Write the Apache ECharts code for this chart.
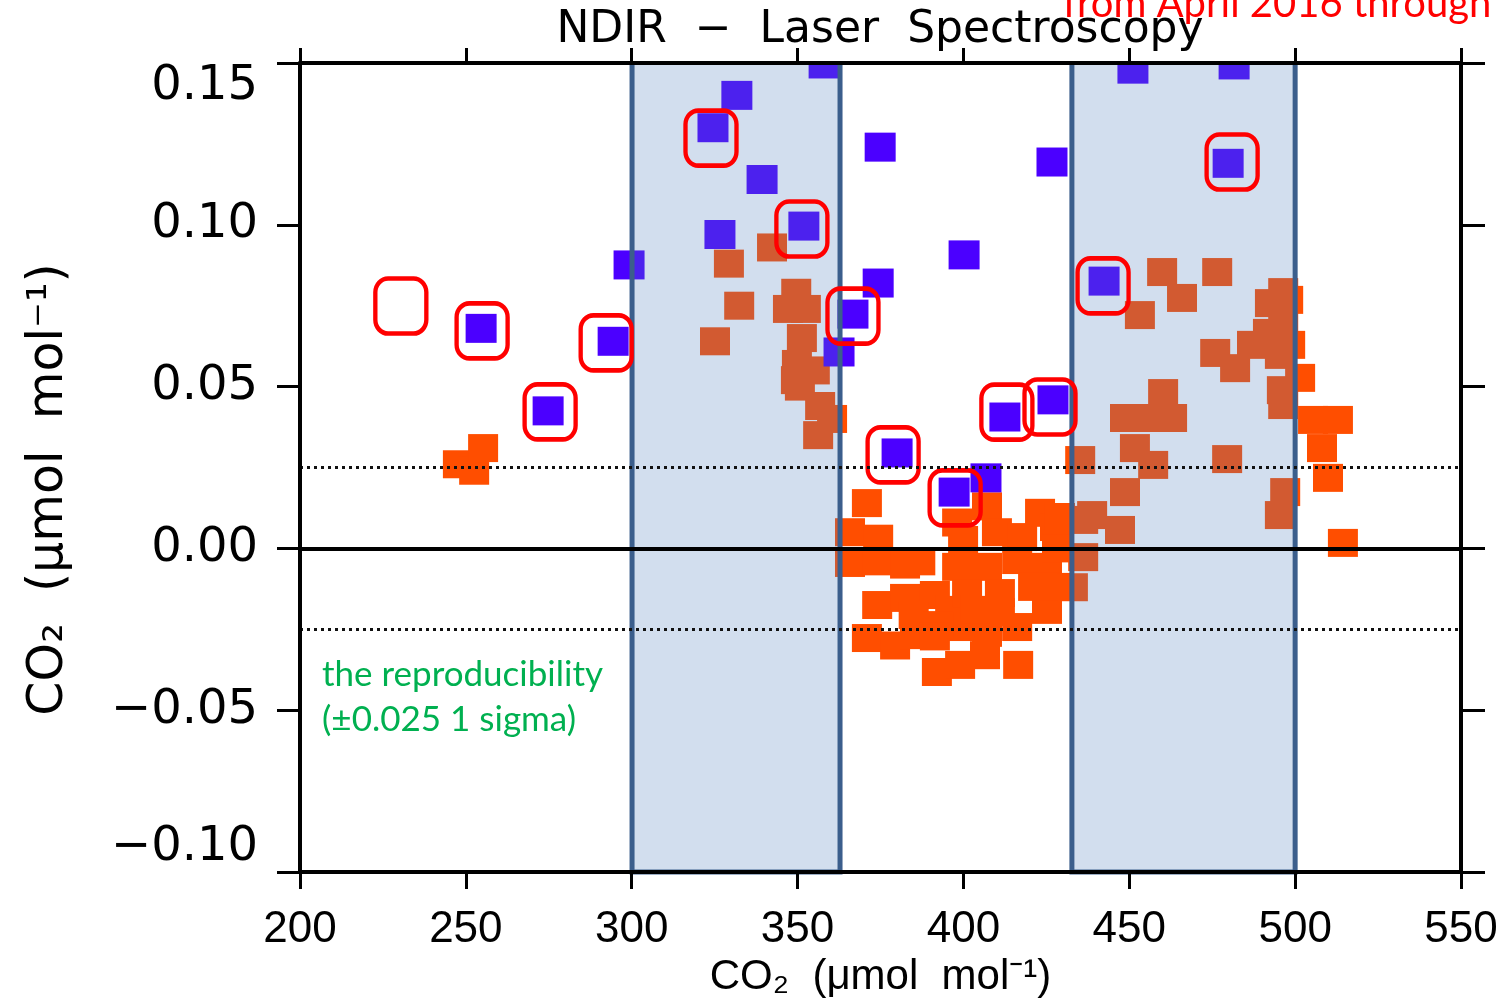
<!DOCTYPE html>
<html>
<head>
<meta charset="utf-8">
<script src="https://cdn.jsdelivr.net/npm/echarts@6/dist/echarts.min.js"></script>
<style>
  html, body { margin: 0; padding: 0; background: #fff; }
  #chart { width: 1504px; height: 1000px; }
</style>
</head>
<body>
<div id="chart"></div>
<script>
// 数据
var xTicks = [200, 550, 50];
var yTicks = [-0.10, 0.15, 0.05];
var reproducibility = 0.025;
var shadedRanges = [[300.1, 362.8], [432.7, 500.0]];

var orangePoints = [
  [247.6, 0.026], [252.5, 0.024], [255.2, 0.031],
  [329.3, 0.088], [342.3, 0.093], [332.4, 0.075], [325.1, 0.064],
  [349.6, 0.079], [347.1, 0.074], [352.5, 0.074], [351.3, 0.065], [349.8, 0.057],
  [355.2, 0.055], [349.5, 0.052], [350.7, 0.050], [356.8, 0.044], [360.4, 0.040], [356.2, 0.035],
  [370.9, 0.014], [365.8, 0.005], [374.3, 0.003], [365.8, -0.0045], [374.0, -0.004],
  [382.4, -0.005], [374.0, -0.0175], [382.4, -0.0153], [391.4, -0.0144], [396.0, -0.019],
  [370.9, -0.0277], [379.4, -0.030], [385.4, -0.0268], [392.0, -0.0382], [399.0, -0.036],
  [406.5, -0.033], [416.5, -0.036], [399.0, -0.0243], [407.1, -0.0261], [416.2, -0.0243],
  [425.2, -0.019], [398.1, 0.008], [407.1, 0.013], [410.1, 0.005], [399.9, 0.0026],
  [398.1, -0.0057], [407.1, -0.0057], [416.2, -0.0036], [425.2, -0.0057], [401.1, -0.0138],
  [411.0, -0.0138], [421.0, -0.0119], [427.6, -0.0119], [423.1, 0.011], [427.6, 0.0066],
  [417.7, 0.0035], [433.0, -0.012], [436.1, 0.0088], [436.1, -0.0027], [435.2, 0.0273],
  [429.1, 0.0097], [428.2, 0.0], [385.0, -0.0206], [392.5, -0.0237], [411.0, -0.0197],
  [403.5, -0.019], [391.4, -0.0272], [387.0, -0.004],
  [459.9, 0.0854], [465.9, 0.0774], [476.5, 0.0854], [453.2, 0.0721],
  [475.9, 0.0604], [481.9, 0.0557], [487.0, 0.0629], [491.8, 0.0666], [492.4, 0.0758],
  [496.4, 0.0792], [496.4, 0.0697], [495.4, 0.0598], [496.0, 0.0489], [496.4, 0.0443],
  [497.9, 0.0768], [498.5, 0.0629], [501.5, 0.0527], [505.4, 0.0397], [512.9, 0.0397],
  [508.1, 0.0310], [509.9, 0.0218], [514.4, 0.0017],
  [460.2, 0.048], [448.7, 0.0403], [456.3, 0.0403], [462.9, 0.0403], [451.7, 0.031],
  [457.2, 0.0258], [448.7, 0.0174], [438.8, 0.0103], [447.2, 0.0057], [479.5, 0.0276],
  [497.0, 0.0174], [495.4, 0.0103]
];

var bluePoints = [
  [254.6, 0.068], [274.8, 0.0425], [294.4, 0.064], [299.2, 0.0876], [331.7, 0.140],
  [324.5, 0.130], [339.3, 0.114], [326.6, 0.097], [351.9, 0.0996], [358.0, 0.1497],
  [374.9, 0.124], [374.3, 0.082], [366.7, 0.0724], [362.5, 0.0607], [400.2, 0.0907],
  [426.7, 0.1194], [451.1, 0.1481], [481.6, 0.1494], [479.8, 0.119], [442.4, 0.0826],
  [427.0, 0.0459], [412.5, 0.0406], [380.0, 0.0295], [397.2, 0.0174], [406.8, 0.0218]
];

var highlighted = [
  [230.4, 0.0749], [254.9, 0.0672], [275.4, 0.0422], [292.3, 0.0635], [323.9, 0.1268],
  [351.3, 0.0987], [366.7, 0.0718], [378.8, 0.0289], [397.5, 0.0156], [413.1, 0.0421],
  [426.1, 0.0437], [442.1, 0.0811], [481.0, 0.1194]
];

var myChart = echarts.init(document.getElementById('chart'));

function yFmt(v) {
  return v.toFixed(2).replace('-', '\u2212');
}

var axisLine = { show: true, onZero: false, lineStyle: { color: '#000', width: 4 } };

var option = {
  animation: false,
  backgroundColor: '#fff',
  title: [
    {
      text: 'NDIR  \u2212  Laser  Spectroscopy',
      left: 880, top: 9, textAlign: 'center', z: 12, padding: 0,
      textStyle: { fontFamily: 'DejaVu Sans', fontSize: 44, fontWeight: 'normal', color: '#000' }
    },
    {
      text: 'the reproducibility\n(\u00b10.025 1 sigma)',
      left: 322, top: 652, z: 12, padding: 0,
      textStyle: { fontFamily: 'Lato', fontSize: 35, fontWeight: 'normal', color: '#00B050', lineHeight: 45 }
    }
  ],
  graphic: [
    {
      // 遮住超出上边框的点
      type: 'rect', z: 5, silent: true,
      shape: { x: 0, y: 0, width: 1504, height: 61 },
      style: { fill: '#fff' }
    },
    {
      type: 'text', z: 13, silent: true,
      style: {
        x: 1063, y: 4, text: 'from April 2016 through', verticalAlign: 'middle',
        fill: '#FF0000', font: '40px Lato'
      }
    }
  ],
  grid: { left: 300, right: 43, top: 63, bottom: 128, outerBoundsMode: 'none', containLabel: false },
  xAxis: [
    {
      type: 'value', position: 'bottom', min: xTicks[0], max: xTicks[1], interval: xTicks[2], z: 10,
      axisLine: axisLine,
      axisTick: { show: true, inside: false, length: 17, lineStyle: { color: '#000', width: 3 } },
      axisLabel: { margin: 36, fontFamily: 'Liberation Sans', fontSize: 44, color: '#000' },
      splitLine: { show: false },
      name: 'CO\u2082  (\u03bcmol  mol\u207b\u00b9)', nameLocation: 'middle', nameGap: 75,
      nameTextStyle: { fontFamily: 'Liberation Sans', fontSize: 42, color: '#000' }
    },
    {
      type: 'value', position: 'top', min: xTicks[0], max: xTicks[1], interval: xTicks[2], z: 10,
      axisLine: axisLine,
      axisTick: { show: true, inside: false, length: 15, lineStyle: { color: '#000', width: 3 } },
      axisLabel: { show: false },
      splitLine: { show: false }
    }
  ],
  yAxis: [
    {
      type: 'value', position: 'left', min: yTicks[0], max: yTicks[1], interval: yTicks[2], z: 10,
      axisLine: axisLine,
      axisTick: { show: true, inside: false, length: 23, lineStyle: { color: '#000', width: 3 } },
      axisLabel: {
        margin: 42, fontFamily: 'DejaVu Sans', fontSize: 48, color: '#000', formatter: yFmt,
        verticalAlignMinLabel: 'bottom', verticalAlignMaxLabel: 'top'
      },
      splitLine: { show: false },
      name: 'CO\u2082  (\u03bcmol  mol\u207b\u00b9)', nameLocation: 'middle', nameGap: 226,
      nameTextStyle: { fontFamily: 'DejaVu Sans', fontSize: 49, color: '#000', padding: [0, 44, 0, 0] }
    },
    {
      type: 'value', position: 'right', min: yTicks[0], max: yTicks[1], interval: yTicks[2], z: 10,
      axisLine: axisLine,
      axisTick: { show: true, inside: false, length: 24, lineStyle: { color: '#000', width: 3 } },
      axisLabel: { show: false },
      splitLine: { show: false }
    }
  ],
  series: [
    {
      name: 'orange', type: 'scatter', z: 2,
      symbol: 'rect', symbolSize: [30, 28],
      itemStyle: { color: '#FF4E00', opacity: 1 },
      data: orangePoints,
      markLine: {
        silent: true, symbol: 'none', z: 6, precision: 4,
        label: { show: false },
        data: [
          { yAxis: 0, lineStyle: { type: 'solid', color: '#000', width: 4 } },
          { yAxis: reproducibility, lineStyle: { type: [3, 4], color: '#111', width: 3 } },
          { yAxis: -reproducibility, lineStyle: { type: [3, 4], color: '#111', width: 3 } }
        ]
      }
    },
    {
      name: 'blue', type: 'scatter', z: 2,
      symbol: 'rect', symbolSize: [31, 29],
      itemStyle: { color: '#4B00FF', opacity: 1 },
      data: bluePoints
    },
    {
      name: 'shaded', type: 'custom', z: 3, silent: true,
      renderItem: function (params, api) {
        var p0 = api.coord([api.value(0), yTicks[1]]);
        var p1 = api.coord([api.value(1), yTicks[0]]);
        return {
          type: 'rect',
          shape: { x: p0[0], y: p0[1] - 3, width: p1[0] - p0[0], height: p1[1] - p0[1] + 3 },
          style: { fill: 'rgba(83,129,190,0.26)', stroke: '#3B5E8C', lineWidth: 5 }
        };
      },
      data: shadedRanges
    },
    {
      name: 'highlight', type: 'scatter', z: 4, silent: true,
      symbol: 'roundRect', symbolSize: [51, 55],
      itemStyle: { color: 'rgba(0,0,0,0)', borderColor: '#FF0000', borderWidth: 4.5, opacity: 1 },
      data: highlighted
    }
  ]
};

myChart.setOption(option);
</script>
</body>
</html>
